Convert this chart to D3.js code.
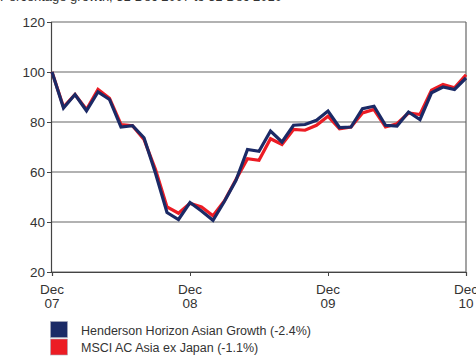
<!doctype html>
<head>
	<script src="https://d3js.org/d3.v7.min.js"></script>
	<style>
		body { margin: 0; background: #fff; }
		text { font-family: "Liberation Sans", Arial, sans-serif; fill: #333; }
	</style>
</head>
<body>
	<svg id="chart" width="476" height="356"></svg>
	<script>
		// monthly values, Dec 2007 .. Dec 2010, rebased to 100
		let fund = [100, 85.6, 91, 84.5, 92, 89, 78, 78.5, 73.7, 59.5, 43.8, 41, 47.8, 44.4, 40.7, 48.3, 56.7,
			69, 68.3, 76.4, 72, 78.7, 79, 80.7, 84.4, 77.8, 78, 85.3, 86.3, 78.7, 78.4, 84, 81, 91.7, 94, 93, 97.6]
		let index = [100, 86, 91, 85, 93, 89.5, 79, 78.5, 73, 61, 46, 43.5, 47.5, 46, 42.5, 48.5, 57,
			65.3, 64.7, 73.3, 71, 77, 76.7, 78.7, 82.3, 77.3, 78, 83.6, 85, 78, 79.3, 83.6, 83, 92.7, 95, 93.7, 98.9]
		let yTicks = [20, 40, 60, 80, 100, 120]
		let xTicks = [0, 12, 24, 36]
		let xLabels = [["Dec", "07"], ["Dec", "08"], ["Dec", "09"], ["Dec", "10"]]
		let legend = ["Henderson Horizon Asian Growth (-2.4%)", "MSCI AC Asia ex Japan (-1.1%)"]
		let colors = ["#1b2a66", "#ec1c24"]

		const svg = d3.select("#chart")
		const x = d3.scaleLinear().domain([0, 36]).range([52, 466])
		const y = d3.scaleLinear().domain([20, 120]).range([272, 22])

		// title, cut off at the top edge
		svg.append("text").attr("x", 0).attr("y", 1).attr("font-size", 13)
			.text("Percentage growth, 31 Dec 2007 to 31 Dec 2010")

		// grid lines + frame
		svg.append("g").selectAll("line").data(yTicks).join("line")
			.attr("x1", 51).attr("x2", 466)
			.attr("y1", d => y(d)).attr("y2", d => y(d))
			.attr("stroke", "#666").attr("stroke-width", 1.2)
		svg.append("line").attr("x1", 466).attr("x2", 466).attr("y1", y(120)).attr("y2", y(20))
			.attr("stroke", "#666").attr("stroke-width", 1.2)

		// y axis
		const yAxis = svg.append("g").attr("transform", "translate(51,0)")
			.call(d3.axisLeft(y).tickValues(yTicks).tickSize(4).tickPadding(2))
		yAxis.select(".domain").attr("stroke", "#444").attr("stroke-width", 1.2)
		yAxis.selectAll(".tick line").attr("stroke", "#444")
		yAxis.selectAll("text").attr("font-size", 13.5).attr("fill", "#444")
			.style("font-family", '"Liberation Sans", Arial, sans-serif')

		// x axis
		const xAxis = svg.append("g").attr("transform", "translate(0,272)")
			.call(d3.axisBottom(x).tickValues(xTicks).tickSize(4).tickFormat(""))
		xAxis.select(".domain").attr("stroke", "#444").attr("stroke-width", 1.2)
		xAxis.selectAll(".tick line").attr("stroke", "#444")
		xTicks.forEach((t, i) => {
			svg.append("text").attr("x", x(t)).attr("y", 294).attr("text-anchor", "middle")
				.attr("font-size", 13.5).attr("fill", "#444").text(xLabels[i][0])
			svg.append("text").attr("x", x(t)).attr("y", 308).attr("text-anchor", "middle")
				.attr("font-size", 13.5).attr("fill", "#444").text(xLabels[i][1])
		})

		// lines, index under fund
		const line = d3.line().x((d, i) => x(i)).y(d => y(d))
		svg.append("path").datum(index).attr("d", line)
			.attr("fill", "none").attr("stroke", colors[1]).attr("stroke-width", 3.2)
			.attr("stroke-linejoin", "miter")
		svg.append("path").datum(fund).attr("d", line)
			.attr("fill", "none").attr("stroke", colors[0]).attr("stroke-width", 3.2)
			.attr("stroke-linejoin", "miter")

		// legend
		legend.forEach((name, i) => {
			svg.append("rect").attr("x", 50.5).attr("y", 321.5 + i * 17.5).attr("width", 17).attr("height", 16)
				.attr("fill", colors[i]).attr("stroke", "#aab").attr("stroke-width", 0.6)
			svg.append("text").attr("x", 81).attr("y", 334.5 + i * 17.5).attr("font-size", 12.5).attr("fill", "#444").text(name)
		})
	</script>
</body>
